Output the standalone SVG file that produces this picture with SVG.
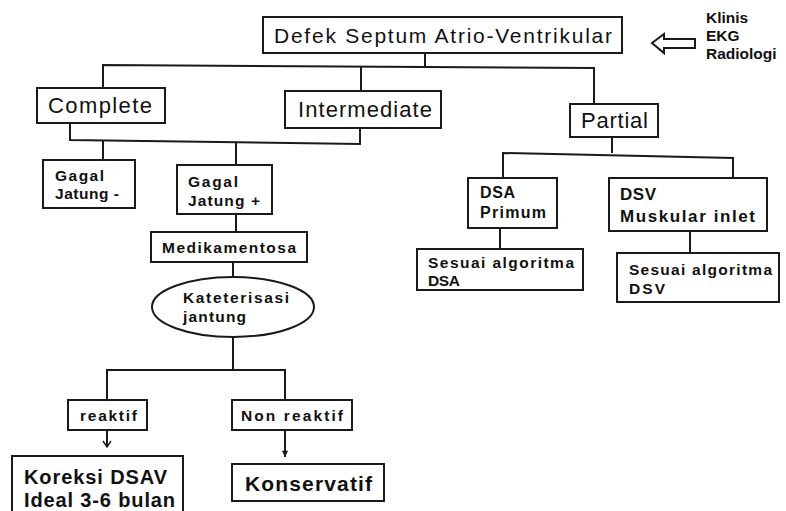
<svg xmlns="http://www.w3.org/2000/svg" width="786" height="511" viewBox="0 0 786 511">
<defs>
<style>
.box{fill:#fff;stroke:#1a1a1a;stroke-width:2}
.ln{fill:none;stroke:#1a1a1a;stroke-width:2}
text{font-family:"Liberation Sans",Arial,sans-serif;fill:#111}
.b{font-weight:bold}
</style>
<marker id="openv" viewBox="0 0 10 10" refX="9" refY="5" markerWidth="10" markerHeight="10" orient="auto" markerUnits="userSpaceOnUse">
<path d="M3,1 L9,5 L3,9" fill="none" stroke="#1a1a1a" stroke-width="1.4"/>
</marker>
<marker id="fillv" viewBox="0 0 10 10" refX="9" refY="5" markerWidth="9" markerHeight="9" orient="auto" markerUnits="userSpaceOnUse">
<path d="M2,1.5 L9,5 L2,8.5 Z" fill="#1a1a1a"/>
</marker>
</defs>
<rect width="786" height="511" fill="#fff"/>

<g id="connectors">
<path class="ln" d="M425,53 V66"/>
<path class="ln" d="M103,88 V65 L594,68 V104"/>
<path class="ln" d="M361,66 V91"/>
<path class="ln" d="M70,123 V140 L360,144 V128"/>
<path class="ln" d="M103,140 V160"/>
<path class="ln" d="M236,142 V165"/>
<path class="ln" d="M236,214 V232"/>
<path class="ln" d="M233,262 V277"/>
<path class="ln" d="M233,337 V370"/>
<path class="ln" d="M107,400 V370 H285 V400"/>
<path class="ln" d="M107,430 V447" marker-end="url(#openv)"/>
<path class="ln" d="M285,430 V457" marker-end="url(#fillv)"/>
<path class="ln" d="M612,137 V153"/>
<path class="ln" d="M503,178 V153 L733,158 V178"/>
<path class="ln" d="M500,228 V249"/>
<path class="ln" d="M690,231 V253"/>
<polygon class="ln" points="652,43 664,34 664,39 695,39 695,48 664,48 664,53" stroke-width="1.8"/>
</g>

<g id="n-root">
<rect class="box" x="263" y="17" width="359" height="36"/>
<text x="274" y="43" font-size="21" textLength="338">Defek Septum Atrio-Ventrikular</text>
</g>
<g id="n-input">
<text class="b" x="706" y="23" font-size="15.5">Klinis</text>
<text class="b" x="706" y="41" font-size="15.5">EKG</text>
<text class="b" x="706" y="59" font-size="15.5">Radiologi</text>
</g>
<g id="n-complete">
<rect class="box" x="37" y="88" width="128" height="35"/>
<text x="48" y="113" font-size="22" textLength="104">Complete</text>
</g>
<g id="n-intermediate">
<rect class="box" x="285" y="91" width="156" height="37"/>
<text x="298" y="117" font-size="22" textLength="134">Intermediate</text>
</g>
<g id="n-partial">
<rect class="box" x="570" y="104" width="88" height="33"/>
<text x="581" y="128" font-size="22" textLength="67">Partial</text>
</g>
<g id="n-gagal-min">
<rect class="box" x="43" y="160" width="92" height="48"/>
<text class="b" x="55" y="181" font-size="15.5" textLength="49">Gagal</text>
<text class="b" x="55" y="199" font-size="15.5" textLength="64">Jatung -</text>
</g>
<g id="n-gagal-plus">
<rect class="box" x="177" y="165" width="95" height="49"/>
<text class="b" x="188" y="187" font-size="15.5" textLength="50">Gagal</text>
<text class="b" x="188" y="206" font-size="15.5" textLength="72">Jatung +</text>
</g>
<g id="n-medikamentosa">
<rect class="box" x="151" y="232" width="156" height="30"/>
<text class="b" x="162" y="253" font-size="15.5" textLength="134">Medikamentosa</text>
</g>
<g id="n-kateterisasi">
<ellipse class="box" cx="233" cy="307" rx="81" ry="30"/>
<text class="b" x="183" y="303" font-size="15.5" textLength="106">Kateterisasi</text>
<text class="b" x="183" y="322" font-size="15.5" textLength="63">jantung</text>
</g>
<g id="n-reaktif">
<rect class="box" x="68" y="400" width="79" height="30"/>
<text class="b" x="80" y="421" font-size="15.5" textLength="57">reaktif</text>
</g>
<g id="n-nonreaktif">
<rect class="box" x="232" y="400" width="120" height="30"/>
<text class="b" x="241" y="421" font-size="15.5" textLength="102">Non reaktif</text>
</g>
<g id="n-koreksi">
<rect class="box" x="12" y="456" width="171" height="60"/>
<text class="b" x="24" y="484" font-size="20" textLength="143">Koreksi DSAV</text>
<text class="b" x="24" y="507" font-size="20" textLength="151">Ideal 3-6 bulan</text>
</g>
<g id="n-konservatif">
<rect class="box" x="232" y="464" width="152" height="37"/>
<text class="b" x="245" y="491" font-size="21" textLength="127">Konservatif</text>
</g>
<g id="n-dsa">
<rect class="box" x="468" y="178" width="89" height="50"/>
<text class="b" x="480" y="198" font-size="16" textLength="35">DSA</text>
<text class="b" x="480" y="218" font-size="16" textLength="66">Primum</text>
</g>
<g id="n-dsv">
<rect class="box" x="609" y="178" width="158" height="53"/>
<text class="b" x="620" y="200" font-size="17" textLength="36">DSV</text>
<text class="b" x="620" y="222" font-size="17" textLength="135">Muskular inlet</text>
</g>
<g id="n-sesuai-dsa">
<rect class="box" x="417" y="249" width="166" height="41"/>
<text class="b" x="428" y="268" font-size="15.5" textLength="146">Sesuai algoritma</text>
<text class="b" x="428" y="286" font-size="15.5" textLength="32">DSA</text>
</g>
<g id="n-sesuai-dsv">
<rect class="box" x="617" y="253" width="162" height="49"/>
<text class="b" x="629" y="275" font-size="15.5" textLength="143">Sesuai algoritma</text>
<text class="b" x="629" y="294" font-size="15.5" textLength="36">DSV</text>
</g>
</svg>
